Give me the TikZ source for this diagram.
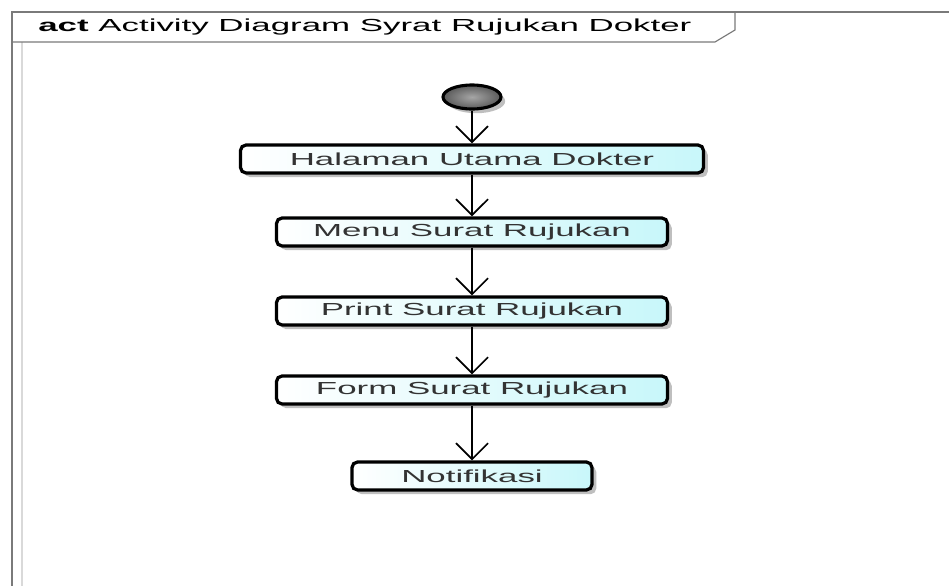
\documentclass[tikz,border=0pt]{standalone}
\usepackage{fontspec}
\setmainfont{Liberation Sans}
\newfontfamily\wideface[FakeStretch=2]{Liberation Sans}
\usepackage{tikz}
\usetikzlibrary{arrows.meta,positioning,calc,shapes.geometric,shadows}
\definecolor{Frame}{HTML}{7A7A7A}
\definecolor{ActCyan}{HTML}{C8F7FA}
\definecolor{StartGray}{HTML}{5A5A5A}

\begin{document}
\begin{tikzpicture}[x=0.025cm,y=-0.025cm,
  actbox/.style={draw=black,line width=2.3pt,rounded corners=4pt,left color=white,right color=ActCyan,
    minimum height=0.7cm,inner sep=0pt,font=\wideface\fontsize{12.4}{14}\selectfont,text=black!80,
    drop shadow={shadow xshift=3pt,shadow yshift=-3pt,opacity=0.25,fill=black}},
  startnode/.style={ellipse,draw=black,line width=2.2pt,inner color=gray!70,outer color=StartGray,
    minimum width=1.45cm,minimum height=0.6cm,
    drop shadow={shadow xshift=3pt,shadow yshift=-3pt,opacity=0.25,fill=black}},
  flow/.style={-{Straight Barb[length=0.4cm,width=0.8cm,line width=1.2pt]},line width=1.8pt,draw=black}
]
\useasboundingbox (0,0) rectangle (949,586);
% frame
\draw[Frame,line width=0.8pt] (12,586) -- (12,12) -- (949,12);
\draw[black!15,line width=0.8pt] (22,586) -- (22,42);
\draw[Frame,line width=0.8pt] (12,42) -- (715,42) -- (735,30) -- (735,12);
\node[anchor=west,inner sep=0pt,font=\wideface\fontsize{12.4}{14}\selectfont] (title) at (38,27)
  {\textbf{act} Activity Diagram Syrat Rujukan Dokter};

\node[startnode] (start) at (472,97) {};
\node[actbox,minimum width=11.575cm] (halaman) at (472,159) {Halaman Utama Dokter};
\node[actbox,minimum width=9.775cm] (menu) at (472,232) {Menu Surat Rujukan};
\node[actbox,minimum width=9.775cm] (print) at (472,311) {Print Surat Rujukan};
\node[actbox,minimum width=9.775cm] (form) at (472,390) {Form Surat Rujukan};
\node[actbox,minimum width=6cm] (notif) at (472,476) {Notifikasi};

\draw[flow] (start) -- (halaman);
\draw[flow] (halaman) -- (menu);
\draw[flow] (menu) -- (print);
\draw[flow] (print) -- (form);
\draw[flow] (form) -- (notif);
\end{tikzpicture}
\end{document}
